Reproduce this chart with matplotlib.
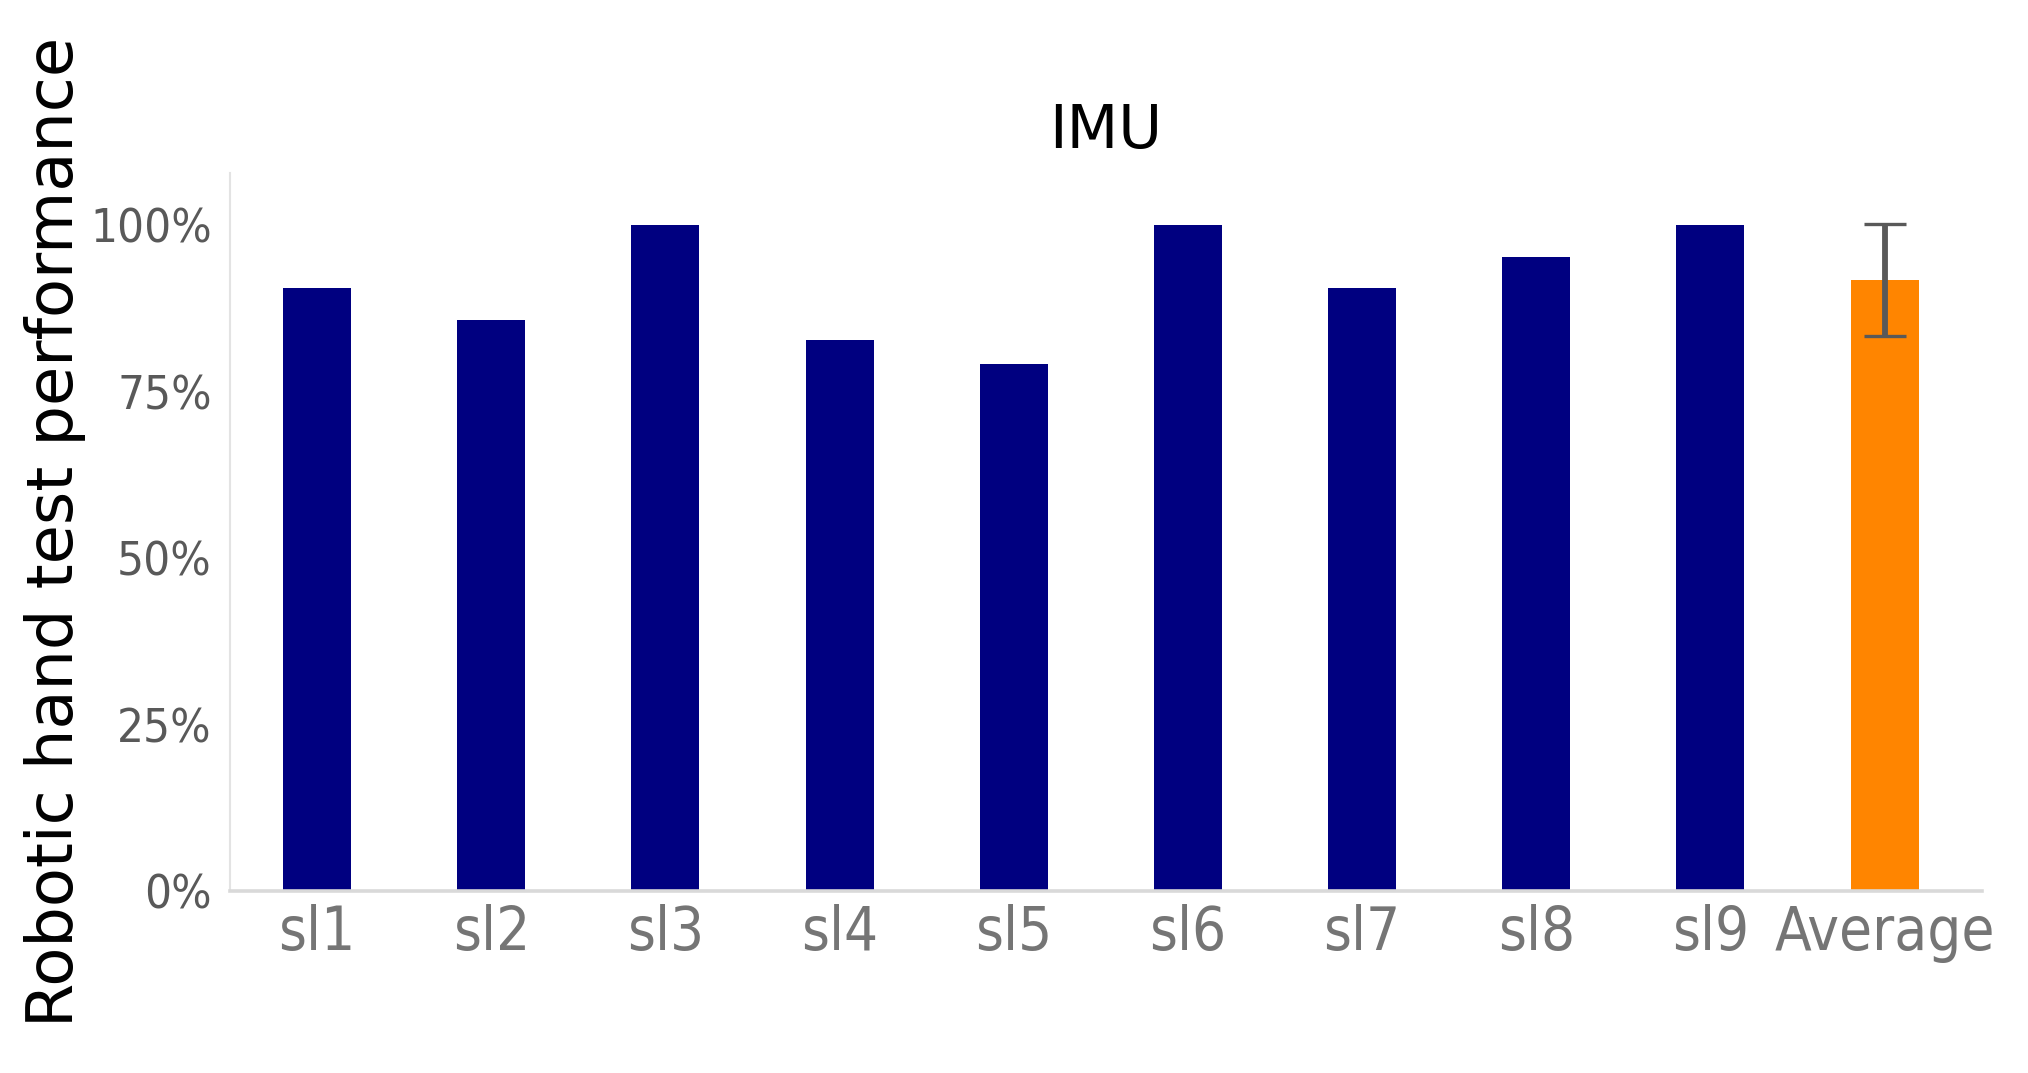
import matplotlib.pyplot as plt
import numpy as np

# data
labels = ["sl1", "sl2", "sl3", "sl4", "sl5", "sl6", "sl7", "sl8", "sl9", "Average"]
scores = [0.905, 0.857, 1.0, 0.827, 0.792, 1.0, 0.905, 0.952, 1.0]
avg = 0.917
avg_err = 0.084

cond = ['DejaVu Sans Condensed', 'Liberation Sans Narrow', 'DejaVu Sans']

fig = plt.figure(figsize=(20.28, 10.73), dpi=100)
ax = fig.add_axes([0.1134, 0.1696, 0.864, 0.669])

x = np.arange(len(labels))
ax.bar(x[:-1], scores, width=0.39, color='#000080')
ax.bar(x[-1], avg, width=0.39, color='#FF8500',
       yerr=avg_err, ecolor='#595959', capsize=15.4,
       error_kw=dict(elinewidth=4.2, capthick=2.4))

ax.set_xlim(-0.5, 9.56)
ax.set_ylim(0, 1.078)
ax.set_yticks([0, 0.25, 0.5, 0.75, 1.0])
ax.set_yticklabels(["0%", "25%", "50%", "75%", "100%"], family=cond,
                   fontstretch='condensed', fontsize=34, color='#595959')
ax.set_xticks(x)
ax.set_xticklabels(labels, family=cond, fontstretch='condensed',
                   fontsize=43, color='#757575')
ax.tick_params(axis='both', length=0)
ax.tick_params(axis='x', pad=9)
ax.tick_params(axis='y', pad=13)

for s in ['top', 'right']:
    ax.spines[s].set_visible(False)
ax.spines['left'].set_color('#e3e3e3')
ax.spines['left'].set_linewidth(1.5)
ax.spines['bottom'].set_color('#d9d9d9')
ax.spines['bottom'].set_linewidth(2.6)

ax.set_title("IMU", fontsize=43, pad=18)
ax.set_ylabel("Robotic hand test performance", fontsize=46)
ax.yaxis.set_label_coords(-0.082, 0.5)

plt.savefig("out.png", dpi=100)
